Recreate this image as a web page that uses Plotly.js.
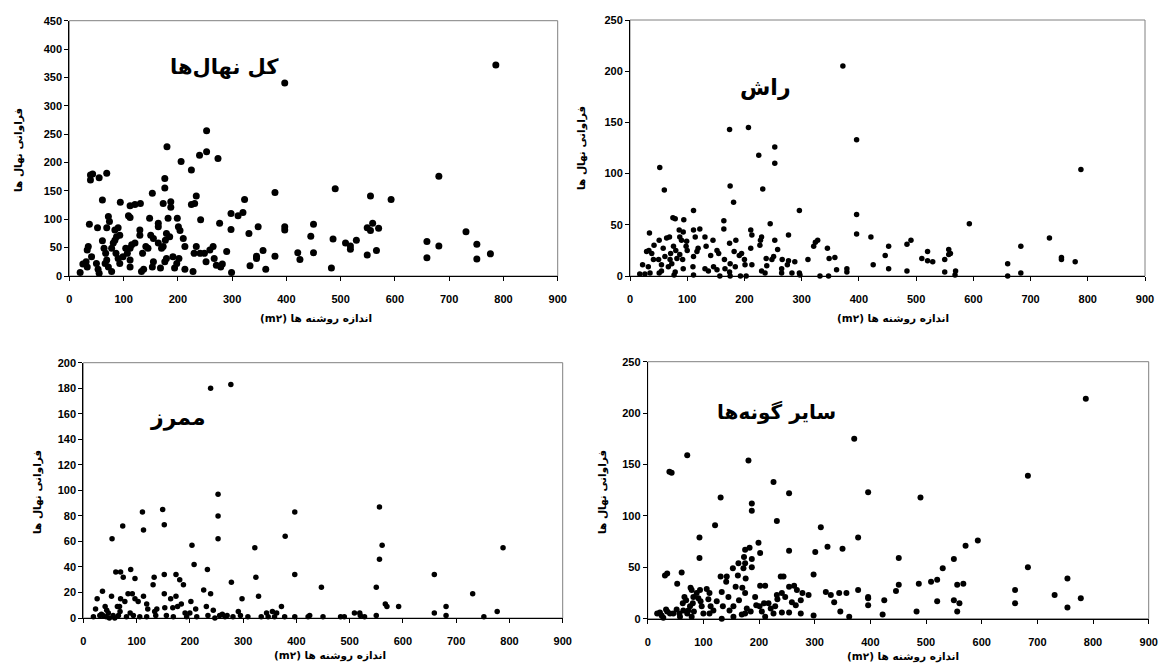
<!DOCTYPE html>
<html>
<head>
<meta charset="utf-8">
<script src="https://cdn.plot.ly/plotly-3.0.1.min.js"></script>
<style>html,body{margin:0;padding:0;background:#fff;}#chart{width:1160px;height:666px;}</style>
</head>
<body>
<div id="chart"></div>
<script>
// ---- data: total seedlings (کل نهال‌ها)
const totalX = [20,25,31,33,33,35,37,41,39,39,
43,55,52,50,53,55,61,61,69,72,
74,69,64,67,69,66,72,78,78,81,
84,87,90,84,93,94,86,90,93,99,
104,107,112,115,109,112,112,121,131,112,
112,121,130,130,133,137,135,141,145,148,
150,155,153,155,153,164,164,164,168,173,
176,176,180,179,177,176,179,173,170,182,
187,187,185,191,194,199,201,204,206,198,
202,210,213,213,225,225,231,234,228,230,
234,241,240,242,249,252,253,253,259,265,
267,274,277,271,279,282,290,298,298,299,
311,320,323,331,333,348,345,345,357,362,
379,379,397,397,397,421,425,450,450,445,
483,486,490,509,518,518,529,549,549,555,
559,570,555,566,593,659,659,681,681,731,
751,751,776,786];
const totalY = [6,21,25,16,46,52,91,34,178,169,
180,173,85,22,12,5,134,62,181,105,
96,85,49,40,28,22,16,8,49,58,
63,69,85,81,72,130,40,31,22,34,
49,40,49,55,106,103,124,126,128,16,
28,58,81,72,8,12,40,52,49,102,
72,66,146,25,16,58,93,87,14,128,
172,155,228,75,63,25,31,52,49,102,
131,121,69,34,14,102,87,80,202,22,
31,66,52,12,187,126,128,141,8,40,
52,40,213,99,40,25,256,219,46,52,
31,207,93,19,16,21,43,110,82,6,
106,112,135,75,18,87,31,35,45,12,
147,35,340,87,81,41,29,91,41,70,
14,65,154,58,53,47,63,37,85,80,
93,84,141,45,135,61,32,176,53,78,
56,30,39,372];

// ---- data: beech (راش)
const beechX = [17,22,26,29,33,32,35,34,38,41,
42,52,60,51,50,51,55,55,58,61,
64,69,67,70,71,73,75,79,76,80,
82,79,77,86,87,90,93,94,87,92,
93,98,99,100,111,111,114,111,110,111,
119,122,117,131,133,131,137,141,145,146,
152,155,152,157,164,164,165,166,174,175,
174,175,174,175,181,182,184,185,191,195,
193,200,203,201,207,211,213,211,213,225,
232,228,230,227,230,236,239,238,245,248,
251,253,253,253,258,265,265,266,277,277,
275,283,288,296,296,297,311,321,324,328,
332,345,348,347,358,361,372,379,379,396,
396,396,421,425,446,452,452,484,491,484,
510,520,520,529,550,550,557,560,557,569,
568,593,660,660,683,683,733,754,754,778,
788];
const beechY = [2,11,2,24,25,9,3,42,22,16,
30,106,84,35,16,3,5,11,27,19,
37,38,9,16,22,12,57,56,29,25,
17,4,1,45,38,35,43,55,21,16,
7,29,34,25,64,45,38,19,9,1,
27,46,24,38,29,7,5,20,35,9,
25,22,6,0,54,46,16,7,143,88,
32,12,4,0,72,24,9,35,20,22,
0,16,0,11,145,45,40,27,11,118,
85,35,38,30,5,3,10,17,51,16,
19,126,110,35,26,7,3,16,40,15,
11,3,14,64,3,1,16,29,33,35,
0,27,17,0,18,6,205,7,4,133,
60,41,38,11,20,29,7,31,35,5,
17,24,15,14,16,4,26,22,21,5,
1,51,12,0,29,3,37,18,16,14,
104];

// ---- data: hornbeam (ممرز)
const hornbeamX = [19,23,26,31,34,36,41,44,43,37,
47,49,54,53,56,59,61,70,74,75,
64,68,69,70,66,78,81,84,89,92,
88,94,97,97,103,113,106,111,113,119,
121,119,131,133,134,138,136,149,152,152,
152,153,156,164,168,169,174,174,177,181,
184,188,191,194,200,202,204,208,211,213,
226,233,231,239,239,234,244,247,253,253,
253,256,261,266,270,277,278,281,291,295,
298,309,322,324,329,334,344,347,355,359,
363,372,379,378,397,397,397,422,425,447,
450,483,490,509,519,520,528,550,550,556,
556,561,567,570,592,659,659,681,681,731,
752,777,788];
const hornbeamY = [1,7,15,2,3,21,9,6,1,2,
4,0,62,17,2,0,36,36,72,32,
9,9,5,15,2,13,1,19,38,19,
4,2,31,15,13,17,1,83,69,11,
7,1,26,32,5,7,2,85,73,34,
19,8,2,15,8,1,17,34,9,30,
11,26,4,1,4,13,57,42,7,1,
22,38,9,19,180,2,6,0,97,80,
62,2,3,1,2,183,28,1,5,2,
15,1,55,32,17,1,4,1,5,1,
4,9,64,1,83,34,1,1,2,24,
1,1,1,4,4,2,1,24,2,87,
46,57,11,9,9,34,4,9,2,19,
1,5,55];

// ---- data: other species (سایر گونه‌ها)
const otherX = [17,22,25,28,33,35,31,35,39,43,
40,46,53,52,57,58,61,63,64,66,
69,71,71,73,76,77,79,82,81,83,
79,88,91,94,95,93,93,97,100,106,
111,109,113,111,121,118,124,131,131,133,
135,133,142,141,145,147,153,154,154,158,
163,162,164,170,169,172,173,175,175,175,
176,178,175,181,183,187,187,187,187,185,
193,195,199,202,202,201,205,211,209,211,
217,221,226,232,226,229,232,233,239,244,
241,241,247,254,254,254,254,259,263,266,
268,275,275,278,289,298,301,298,311,320,
323,329,335,344,346,350,357,362,371,378,
378,396,396,396,396,422,425,446,451,451,
483,487,490,509,520,520,530,550,550,556,
567,560,556,571,593,660,660,683,683,731,
754,754,778,787];
const otherY = [5,6,3,1,9,7,42,44,143,142,
5,5,34,9,5,2,45,15,8,21,
18,159,5,8,12,30,28,21,15,7,
2,25,20,28,17,79,59,12,5,29,
25,19,12,5,91,8,17,118,41,26,
12,0,41,36,21,8,49,12,2,31,
54,42,18,30,4,49,60,54,67,25,
39,10,5,154,69,112,105,58,50,7,
21,13,74,64,32,12,7,32,15,2,
15,10,133,95,5,12,23,19,41,41,
25,6,21,122,66,31,6,16,32,13,
28,18,5,25,23,43,65,3,89,26,
70,23,16,25,7,68,25,2,175,79,
28,123,21,20,13,4,18,27,33,59,
7,34,118,36,38,17,49,58,18,33,
34,15,7,71,76,28,15,139,50,23,
39,11,20,214];

const panelTitles = ['کل نهال\u200cها', 'راش', 'ممرز', 'سایر گونه\u200cها'];
const xTitle = '(m۲) اندازه روشنه ها';
const yTitle = 'فراوانی نهال ها';
const yMax = [450, 250, 200, 250];
const yStep = [50, 50, 20, 50];

// ---- layout geometry (pixels)
const W = 1160, H = 666;
const boxes = [
  {l: 69.3, r: 557.7, t: 20.7, b: 276.0, ms: 7,   tf: 21, title: [224, 67], yt: [18, 150], xt: [316, 318]},
  {l: 630.0, r: 1145.0, t: 20.0, b: 276.0, ms: 5.5, tf: 22, title: [765, 87], yt: [581, 148], xt: [893, 318]},
  {l: 83.3, r: 562.7, t: 362.7, b: 618.0, ms: 5.5, tf: 22, title: [178, 418], yt: [37, 492], xt: [330, 655]},
  {l: 647.7, r: 1148.7, t: 361.7, b: 618.7, ms: 6, tf: 20, title: [776, 412], yt: [602, 492], xt: [903, 656]}
];
const series = [[totalX, totalY], [beechX, beechY], [hornbeamX, hornbeamY], [otherX, otherY]];

const tickFont = {family: 'Liberation Sans, Arial, sans-serif', size: 11, color: '#000', weight: 'bold'};
const arFont = {family: 'DejaVu Sans, Noto Sans, sans-serif', color: '#000', weight: 'bold'};

const data = [];
const layout = {
  width: W, height: H, margin: {l: 0, r: 0, t: 0, b: 0},
  paper_bgcolor: '#fff', plot_bgcolor: '#fff', showlegend: false,
  shapes: [], annotations: []
};

boxes.forEach((b, i) => {
  const n = i === 0 ? '' : String(i + 1);
  const xa = 'xaxis' + n, ya = 'yaxis' + n;
  layout[xa] = {
    domain: [b.l / W, b.r / W], anchor: 'y' + n, range: [0, 900], tick0: 0, dtick: 100,
    showline: true, linecolor: '#000', linewidth: 1, ticks: 'outside', ticklen: 4, tickcolor: '#000',
    showgrid: false, zeroline: false, tickfont: tickFont, ticklabelstandoff: 9, fixedrange: true
  };
  layout[ya] = {
    domain: [1 - b.b / H, 1 - b.t / H], anchor: 'x' + n, range: [0, yMax[i]], tick0: 0, dtick: yStep[i],
    showline: true, linecolor: '#000', linewidth: 1, ticks: 'outside', ticklen: 4, tickcolor: '#000',
    showgrid: false, zeroline: false, tickfont: tickFont, fixedrange: true
  };
  data.push({
    type: 'scatter', mode: 'markers', x: series[i][0], y: series[i][1],
    xaxis: 'x' + n, yaxis: 'y' + n, cliponaxis: false,
    marker: {color: '#000', size: b.ms, line: {width: 0}}, hoverinfo: 'x+y'
  });
  layout.shapes.push({
    type: 'rect', xref: 'x' + n + ' domain', yref: 'y' + n + ' domain', x0: 0, x1: 1, y0: 0, y1: 1,
    line: {color: '#808080', width: 1}, layer: 'below'
  });
  layout.annotations.push({
    xref: 'paper', yref: 'paper', x: b.title[0] / W, y: 1 - b.title[1] / H,
    xanchor: 'center', yanchor: 'middle', showarrow: false, text: panelTitles[i],
    font: Object.assign({}, arFont, {size: b.tf})
  });
  layout.annotations.push({
    xref: 'paper', yref: 'paper', x: b.xt[0] / W, y: 1 - b.xt[1] / H,
    xanchor: 'center', yanchor: 'middle', showarrow: false, text: xTitle,
    font: Object.assign({}, arFont, {size: 10.5})
  });
  layout.annotations.push({
    xref: 'paper', yref: 'paper', x: b.yt[0] / W, y: 1 - b.yt[1] / H,
    xanchor: 'center', yanchor: 'middle', showarrow: false, text: yTitle, textangle: -90,
    font: Object.assign({}, arFont, {size: 10.5})
  });
});

Plotly.newPlot('chart', data, layout, {staticPlot: true, displayModeBar: false});
</script>
</body>
</html>
